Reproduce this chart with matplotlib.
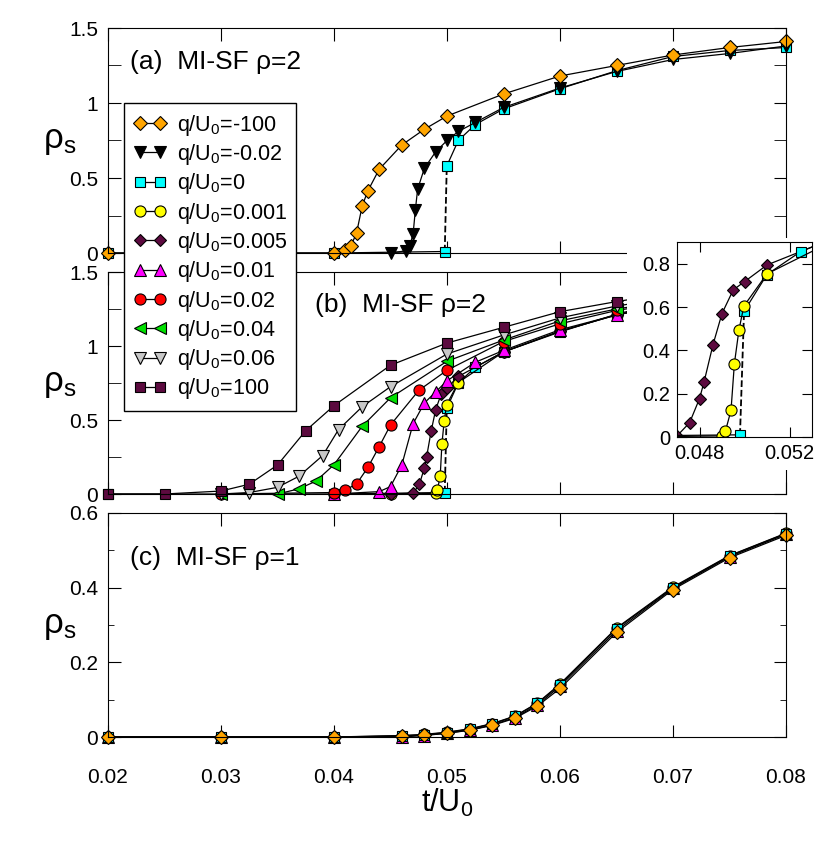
import numpy as np
import matplotlib
matplotlib.use("Agg")
import matplotlib.pyplot as plt
from matplotlib.patches import Rectangle
from matplotlib.lines import Line2D
from matplotlib.ticker import MultipleLocator, FuncFormatter

plt.rcParams['font.family'] = ['Liberation Sans', 'DejaVu Sans']
plt.rcParams['mathtext.fontset'] = 'custom'
plt.rcParams['mathtext.rm'] = 'Liberation Sans'
plt.rcParams['mathtext.default'] = 'regular'

# ---- panel (a): MI-SF rho=2 ----
t_a_m100 = [0.02, 0.04, 0.041, 0.0415, 0.042, 0.0425, 0.043, 0.044, 0.046, 0.048, 0.05,
            0.055, 0.06, 0.065, 0.07, 0.075, 0.08]
r_a_m100 = [0, 0, 0.02, 0.047, 0.135, 0.315, 0.415, 0.558, 0.72, 0.825, 0.913,
            1.06, 1.18, 1.25, 1.32, 1.37, 1.41]
t_a_m002 = [0.045, 0.0464, 0.0467, 0.047, 0.0472, 0.0474, 0.048, 0.049, 0.05, 0.051, 0.0525,
            0.055, 0.06, 0.065, 0.07, 0.075, 0.08]
r_a_m002 = [0, 0.015, 0.047, 0.127, 0.287, 0.425, 0.565, 0.675, 0.75, 0.81, 0.87,
            0.97, 1.10, 1.21, 1.29, 1.33, 1.38]
# q=0 (same in a and b), jump between index 2 and 3
t_q0 = [0.02, 0.04, 0.0498, 0.04998, 0.051, 0.0525, 0.055, 0.06, 0.065, 0.07, 0.075, 0.08]
r_q0 = [0, 0, 0.01, 0.58, 0.75, 0.856, 0.96, 1.095, 1.215, 1.31, 1.35, 1.37]

# ---- panel (b): MI-SF rho=2 ----
t_b_100 = [0.02, 0.025, 0.03, 0.0325, 0.035, 0.0375, 0.04, 0.045, 0.05, 0.055, 0.06, 0.065,
           0.07, 0.075, 0.08]
r_b_100 = [0, 0, 0.02, 0.066, 0.196, 0.428, 0.597, 0.87, 1.02, 1.126, 1.232, 1.30,
           1.36, 1.40, 1.43]
t_b_006 = [0.03, 0.0325, 0.035, 0.0369, 0.039, 0.0404, 0.0425, 0.045, 0.05, 0.055, 0.06, 0.065,
           0.07, 0.075, 0.08]
r_b_006 = [0, 0.01, 0.045, 0.12, 0.26, 0.435, 0.59, 0.725, 0.946, 1.074, 1.19, 1.27,
           1.33, 1.37, 1.40]
t_b_004 = [0.03, 0.035, 0.0369, 0.0384, 0.04, 0.0425, 0.045, 0.05, 0.055, 0.06, 0.065,
           0.07, 0.075, 0.08]
r_b_004 = [0, 0, 0.035, 0.087, 0.198, 0.458, 0.65, 0.897, 1.04, 1.17, 1.25,
           1.31, 1.35, 1.38]
t_b_002 = [0.03, 0.04, 0.041, 0.042, 0.043, 0.044, 0.045, 0.0475, 0.05, 0.055, 0.06, 0.065,
           0.07, 0.075, 0.08]
r_b_002 = [0, 0.01, 0.027, 0.068, 0.18, 0.32, 0.466, 0.70, 0.836, 1.03, 1.15, 1.24,
           1.30, 1.34, 1.37]
t_b_001 = [0.04, 0.044, 0.045, 0.046, 0.047, 0.048, 0.049, 0.05, 0.0525, 0.055, 0.06, 0.065,
           0.07, 0.075, 0.08]
r_b_001 = [0, 0.016, 0.05, 0.196, 0.475, 0.615, 0.69, 0.765, 0.89, 0.97, 1.11, 1.21,
           1.28, 1.32, 1.35]
t_b_0005 = [0.045, 0.047, 0.04756, 0.048, 0.0482, 0.0486, 0.049, 0.0495, 0.05, 0.051,
            0.055, 0.06, 0.065, 0.07, 0.075, 0.08]
r_b_0005 = [0, 0.005, 0.066, 0.177, 0.253, 0.426, 0.57, 0.679, 0.717, 0.794,
            0.96, 1.10, 1.21, 1.29, 1.33, 1.36]
t_b_0001 = [0.04, 0.045, 0.049, 0.04915, 0.0494, 0.04955, 0.04975, 0.04997, 0.051,
            0.055, 0.06, 0.065, 0.07, 0.075, 0.08]
r_b_0001 = [0, 0, 0.005, 0.026, 0.123, 0.338, 0.492, 0.604, 0.753,
            0.96, 1.10, 1.21, 1.29, 1.33, 1.36]

# ---- panel (c): MI-SF rho=1 ----
t_c = [0.02, 0.03, 0.04, 0.046, 0.048, 0.05, 0.052, 0.054, 0.056, 0.058, 0.06, 0.065, 0.07, 0.075, 0.08]
r_c_m100 = [0, 0, 0, 0.002, 0.005, 0.01, 0.018, 0.031, 0.05, 0.083, 0.13, 0.28, 0.395, 0.48, 0.54]
r_c_0 = [0, 0, 0, 0.003, 0.006, 0.012, 0.021, 0.035, 0.055, 0.09, 0.14, 0.29, 0.40, 0.485, 0.545]
r_c_0001 = [0, 0, 0, 0.004, 0.007, 0.013, 0.022, 0.036, 0.056, 0.091, 0.142, 0.292, 0.402, 0.486, 0.546]
r_c_001 = [0, 0, 0, 0.0, 0.004, 0.01, 0.019, 0.032, 0.052, 0.086, 0.136, 0.285, 0.398, 0.483, 0.543]

labels = ["q/U$_0$=-100", "q/U$_0$=-0.02", "q/U$_0$=0", "q/U$_0$=0.001", "q/U$_0$=0.005",
          "q/U$_0$=0.01", "q/U$_0$=0.02", "q/U$_0$=0.04", "q/U$_0$=0.06", "q/U$_0$=100"]

# marker styles per series
sty = {
    "m100": dict(marker="D", ms=7, mfc="#FFA500"),
    "m002": dict(marker="v", ms=9, mfc="black"),
    "0": dict(marker="s", ms=7.5, mfc="#00FFFF"),
    "0001": dict(marker="o", ms=8, mfc="#FFFF00"),
    "0005": dict(marker="D", ms=6.5, mfc="#5C0A3F"),
    "001": dict(marker="^", ms=8.5, mfc="#FF00FF"),
    "002": dict(marker="o", ms=8, mfc="#FF0000"),
    "004": dict(marker="<", ms=8.5, mfc="#00E000"),
    "006": dict(marker="v", ms=9, mfc="#C8C8C8"),
    "100": dict(marker="s", ms=6.5, mfc="#5C0A3F"),
}
keys = ["m100", "m002", "0", "0001", "0005", "001", "002", "004", "006", "100"]
LW = 0.9


def draw(ax, t, r, key, jump=None, clip=False):
    t = np.asarray(t)
    r = np.asarray(r)
    s = sty[key]
    if jump is None:
        ax.plot(t, r, "-", color="k", lw=LW, clip_on=clip)
    else:
        ax.plot(t[:jump + 1], r[:jump + 1], "-", color="k", lw=LW, clip_on=clip)
        ax.plot(t[jump:jump + 2], r[jump:jump + 2], "--", color="k", lw=1.3, clip_on=clip)
        ax.plot(t[jump + 1:], r[jump + 1:], "-", color="k", lw=LW, clip_on=clip)
    ax.plot(t, r, ls="none", marker=s["marker"], ms=s["ms"], mfc=s["mfc"], mec="k",
            mew=0.8, clip_on=clip)


W, H = 830, 846
fig = plt.figure(figsize=(W / 100, H / 100), dpi=100)


def fr(x0, y0, x1, y1):
    return [x0 / W, 1 - y1 / H, (x1 - x0) / W, (y1 - y0) / H]


ax_a = fig.add_axes(fr(108, 28, 786, 253))
ax_b = fig.add_axes(fr(108, 272, 786, 494))
ax_c = fig.add_axes(fr(108, 513, 786, 737))

fmt = FuncFormatter(lambda v, p: "%g" % v)

for ax in (ax_a, ax_b, ax_c):
    ax.set_xlim(0.02, 0.08)
    ax.xaxis.set_major_locator(MultipleLocator(0.01))
    ax.tick_params(which="both", direction="in", top=True, right=True, labelsize=15)
    ax.tick_params(axis="y", which="major", length=9, pad=7)
    ax.tick_params(axis="x", which="major", length=9, pad=22)
    ax.yaxis.set_major_formatter(fmt)
    ax.set_ylabel(r"$\rho_s$", rotation=0, fontsize=25, va="center", ha="center")
    ax.yaxis.set_label_coords(-0.072, 0.5)

for ax in (ax_a, ax_b):
    ax.set_ylim(0, 1.5)
    ax.yaxis.set_major_locator(MultipleLocator(0.5))
    ax.yaxis.set_minor_locator(MultipleLocator(0.25))
    ax.tick_params(axis="y", which="minor", length=9)
    ax.tick_params(axis="x", labelbottom=False)

ax_c.set_ylim(0, 0.6)
ax_c.yaxis.set_major_locator(MultipleLocator(0.2))
ax_c.yaxis.set_minor_locator(MultipleLocator(0.1))
ax_c.tick_params(axis="y", which="minor", length=4.5)
ax_c.xaxis.set_major_formatter(FuncFormatter(lambda v, p: "%.2f" % v))
ax_c.set_xlabel("t/U$_0$", fontsize=22, labelpad=0)

# panel a
draw(ax_a, t_q0, r_q0, "0", jump=2)
draw(ax_a, t_a_m002, r_a_m002, "m002")
draw(ax_a, t_a_m100, r_a_m100, "m100")
ax_a.text(0.032, 0.85, "(a)  MI-SF ρ=2", transform=ax_a.transAxes, fontsize=19, va="center")

# panel b
draw(ax_b, t_q0, r_q0, "0", jump=2)
draw(ax_b, t_b_0001, r_b_0001, "0001")
draw(ax_b, t_b_0005, r_b_0005, "0005")
draw(ax_b, t_b_001, r_b_001, "001")
draw(ax_b, t_b_002, r_b_002, "002")
draw(ax_b, t_b_004, r_b_004, "004")
draw(ax_b, t_b_006, r_b_006, "006")
draw(ax_b, t_b_100, r_b_100, "100")
ax_b.text(0.305, 0.85, "(b)  MI-SF ρ=2", transform=ax_b.transAxes, fontsize=19, va="center")

# panel c
draw(ax_c, t_c, r_c_001, "001")
draw(ax_c, t_c, r_c_0001, "0001")
draw(ax_c, t_c, r_c_0, "0")
draw(ax_c, t_c, r_c_m100, "m100")
ax_c.text(0.032, 0.80, "(c)  MI-SF ρ=1", transform=ax_c.transAxes, fontsize=19, va="center")

# white patch behind the inset (hides the right part of panels a/b)
fig.add_artist(Rectangle((627 / W, 1 - 470 / H), 1 - 627 / W, (470 - 238) / H,
                         transform=fig.transFigure, fc="white", ec="none", zorder=1))

ax_in = fig.add_axes(fr(677, 242, 812, 437))
ax_in.set_zorder(2)
ax_in.set_xlim(0.047, 0.053)
ax_in.set_ylim(0, 0.9)
ax_in.set_xticks([0.048, 0.052])
ax_in.set_yticks([0, 0.2, 0.4, 0.6, 0.8])
ax_in.yaxis.set_major_formatter(fmt)
ax_in.xaxis.set_major_formatter(FuncFormatter(lambda v, p: "%.3f" % v))
ax_in.tick_params(direction="in", top=True, right=True, labelsize=14.5, length=7, pad=5)
draw(ax_in, t_b_0005, r_b_0005, "0005", clip=True)
draw(ax_in, t_q0, r_q0, "0", jump=2, clip=True)
draw(ax_in, t_b_0001, r_b_0001, "0001", clip=True)

# legend
handles = []
for k in keys:
    s = sty[k]
    handles.append(Line2D([], [], color="k", lw=LW, marker=s["marker"], ms=s["ms"],
                          mfc=s["mfc"], mec="k", mew=0.8))
leg = fig.legend(handles, labels, loc="upper left", bbox_to_anchor=(124 / W, 1 - 103 / H),
                 bbox_transform=fig.transFigure, numpoints=2, handlelength=1.5,
                 handletextpad=0.5, fontsize=15.5, labelspacing=0.2, borderpad=0.45,
                 fancybox=False, framealpha=1, edgecolor="k", borderaxespad=0)
leg.get_frame().set_linewidth(1.0)
leg.set_zorder(5)

fig.savefig("out.png", dpi=100)
